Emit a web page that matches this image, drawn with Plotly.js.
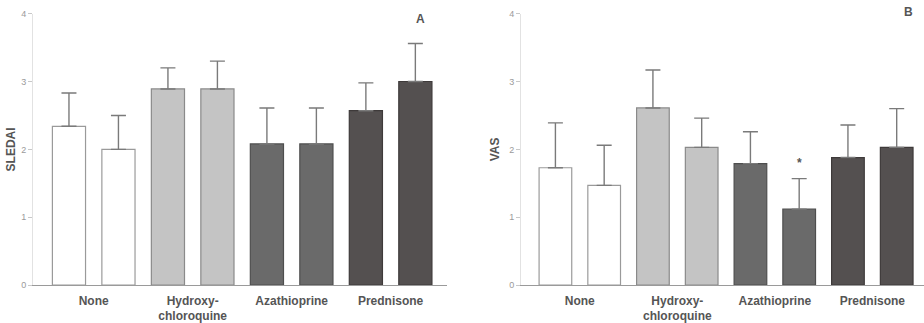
<!DOCTYPE html>
<html>
<head>
<meta charset="utf-8">
<script src="https://cdn.plot.ly/plotly-3.0.1.min.js"></script>
<style>
  html, body { margin: 0; padding: 0; background: #fff; }
  #chart { width: 924px; height: 323px; }
</style>
</head>
<body>
<div id="chart"></div>
<script>
// Treatment groups, two bars per group
const groups = ['None', 'Hydroxy-<br>chloroquine', 'Azathioprine', 'Prednisone'];
const barPos = [0, 1, 2, 3, 4, 5, 6, 7];
const groupPos = [0.5, 2.5, 4.5, 6.5];

// Panel A: SLEDAI means and upper SD
const sledaiMean = [2.34, 2.00, 2.89, 2.89, 2.08, 2.08, 2.57, 3.00];
const sledaiErr  = [0.49, 0.50, 0.31, 0.41, 0.53, 0.53, 0.41, 0.56];

// Panel B: VAS means and upper SD
const vasMean = [1.73, 1.47, 2.61, 2.03, 1.79, 1.12, 1.88, 2.03];
const vasErr  = [0.66, 0.59, 0.56, 0.43, 0.47, 0.45, 0.48, 0.57];

const yTicks = [0, 1, 2, 3, 4];

const fills = ['#ffffff', '#ffffff', '#c4c4c4', '#c4c4c4', '#6a6a6a', '#6a6a6a', '#545050', '#545050'];
const edges = ['#9a9a9a', '#9a9a9a', '#8a8a8a', '#8a8a8a', '#4e4e4e', '#4e4e4e', '#3e3a3a', '#3e3a3a'];
const zeros = barPos.map(() => 0);

function barTrace(values, errs, xa, ya) {
  return {
    type: 'bar',
    x: barPos,
    y: values,
    xaxis: xa,
    yaxis: ya,
    width: 0.67,
    marker: { color: fills, line: { color: edges, width: 1.2 } },
    error_y: {
      type: 'data', symmetric: false,
      array: errs, arrayminus: zeros,
      color: '#7a7a7a', thickness: 1.4, width: 7.5
    },
    hoverinfo: 'skip',
    showlegend: false
  };
}

const tickFont = { family: 'Liberation Sans, Arial, sans-serif', size: 9, color: '#9a9a9a' };
const catFont = { family: 'Liberation Sans, Arial, sans-serif', size: 12, color: '#555555' };
const titleFont = { family: 'Liberation Sans, Arial, sans-serif', size: 12, color: '#555555' };

function xAxis(domain, range, anchor) {
  return {
    domain: domain, range: range, anchor: anchor,
    tickvals: groupPos, ticktext: groups.map(g => '<b>' + g + '</b>'),
    ticks: '', tickfont: catFont, ticklabelstandoff: 4,
    showgrid: false, zeroline: false,
    showline: true, linecolor: '#9a9a9a', linewidth: 1.2,
    fixedrange: true
  };
}

function yAxis(anchor, title, standoff) {
  return {
    domain: [0.117, 0.958], range: [0, 4], anchor: anchor,
    tickvals: yTicks, ticks: 'outside', ticklen: 4, tickcolor: '#c8c8c8',
    tickfont: tickFont,
    showgrid: false, zeroline: false,
    showline: true, linecolor: '#e2e2e2', linewidth: 1,
    title: { text: '<b>' + title + '</b>', font: titleFont, standoff: standoff },
    fixedrange: true
  };
}

const data = [
  barTrace(sledaiMean, sledaiErr, 'x', 'y'),
  barTrace(vasMean, vasErr, 'x2', 'y2')
];

const layout = {
  width: 924, height: 323,
  margin: { l: 0, r: 0, t: 0, b: 0 },
  paper_bgcolor: '#ffffff', plot_bgcolor: '#ffffff',
  bargap: 0,
  xaxis: xAxis([0.0357, 0.4838], [-0.727, 7.64], 'y'),
  yaxis: yAxis('x', 'SLEDAI', 2),
  xaxis2: xAxis([0.5639, 1.0], [-0.705, 7.56], 'y2'),
  yaxis2: yAxis('x2', 'VAS', 7),
  annotations: [
    { xref: 'paper', yref: 'paper', x: 420 / 924, y: 1 - 19 / 323,
      text: '<b>A</b>', showarrow: false, font: titleFont, xanchor: 'center', yanchor: 'middle' },
    { xref: 'paper', yref: 'paper', x: 908 / 924, y: 1 - 12 / 323,
      text: '<b>B</b>', showarrow: false, font: titleFont, xanchor: 'center', yanchor: 'middle' },
    { xref: 'x2', yref: 'y2', x: barPos[5], y: vasMean[5] + vasErr[5],
      text: '<b>*</b>', showarrow: false, yshift: 16,
      font: { family: 'Liberation Sans, Arial, sans-serif', size: 12, color: '#555555' } }
  ]
};

Plotly.newPlot('chart', data, layout, { displayModeBar: false, staticPlot: true });
</script>
</body>
</html>
